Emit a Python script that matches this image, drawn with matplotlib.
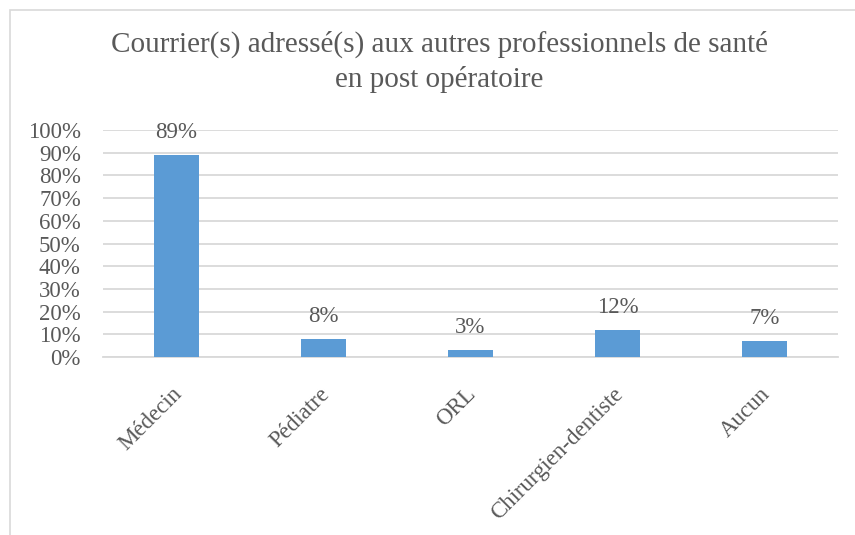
import matplotlib
matplotlib.use("Agg")
import matplotlib.pyplot as plt
from matplotlib.patches import Rectangle
from matplotlib.transforms import ScaledTranslation

categories = ["Médecin", "Pédiatre", "ORL", "Chirurgien-dentiste", "Aucun"]
values = [89, 8, 3, 12, 7]
yticks = [0, 10, 20, 30, 40, 50, 60, 70, 80, 90, 100]
ytick_labels = [f"{v}%" for v in yticks]
title = "Courrier(s) adressé(s) aux autres professionnels de santé\nen post opératoire"

plt.rcParams['font.family'] = ['Liberation Serif', 'DejaVu Serif']
txt = "#595959"
fs = 16.5

fig = plt.figure(figsize=(8.55, 5.35), dpi=100)
fig.patches.append(Rectangle((9.5/855, -0.1), 2, 1.1 - 10/535, transform=fig.transFigure,
                             fill=False, edgecolor="#d9d9d9", linewidth=1.2))
ax = fig.add_axes([103/855, 1 - 357/535, (838-103)/855, (357-130)/535])

x = list(range(len(categories)))
ax.bar(x, values, width=0.31, color="#5B9BD5", zorder=3)
for xi, v in zip(x, values):
    ax.annotate(f"{v}%", (xi, v), xytext=(0, 8.5), textcoords="offset points",
                ha="center", va="bottom", fontsize=fs, color=txt)

ax.set_xlim(-0.5, len(categories) - 0.5)
ax.set_ylim(0, 100)
ax.set_yticks(yticks)
ax.set_yticklabels(ytick_labels, fontsize=fs, color=txt)
ax.yaxis.grid(True, color="#d9d9d9", linewidth=1.3, zorder=0)
ax.set_axisbelow(True)
for s in ["top", "right", "left"]:
    ax.spines[s].set_visible(False)
ax.spines["bottom"].set_color("#d9d9d9")
ax.spines["bottom"].set_linewidth(1.3)
ax.tick_params(axis="x", length=0, pad=4)
ax.tick_params(axis="y", length=0, pad=16)
ax.set_xticks(x)
ax.set_xticklabels(categories, fontsize=fs, color=txt, rotation=45,
                   ha="right", va="top", rotation_mode="anchor")
for lab in ax.get_xticklabels():
    lab.set_transform(lab.get_transform() + ScaledTranslation(-5/100, -21/100, fig.dpi_scale_trans))

fig.text(439/855, 1 - 62/535, title, ha="center", va="center", fontsize=21,
         color=txt, linespacing=1.35)

fig.savefig("out.png", dpi=100, facecolor="white")
